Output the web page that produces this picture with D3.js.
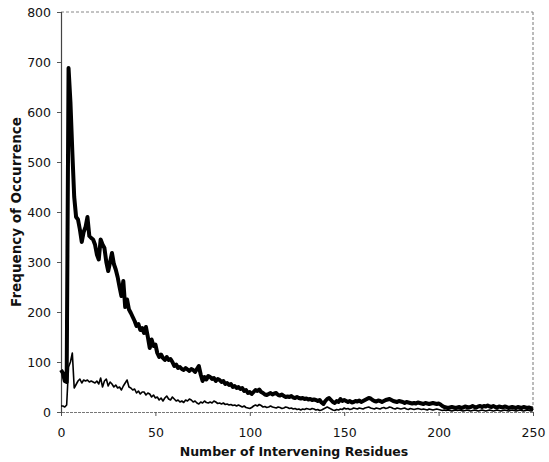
<!DOCTYPE html>
<html>
<head>
<meta charset="utf-8">
<script src="https://cdn.jsdelivr.net/npm/d3@7"></script>
<style>
  html, body { margin: 0; padding: 0; background: #fff; }
  svg { display: block; }
</style>
</head>
<body>
<svg id="chart" width="549" height="462"></svg>
<script>
// ---- data ----
const xTicks = [0, 50, 100, 150, 200, 250];
const yTicks = [0, 100, 200, 300, 400, 500, 600, 700, 800];
const xTitle = "Number of Intervening Residues";
const yTitle = "Frequency of Occurrence";

// thick series, x = 0..250
const thickSeries = [
  84, 78, 62, 60, 688, 620, 520, 430, 390, 385,
  365, 340, 360, 370, 390, 352, 348, 345, 335, 315,
  305, 345, 335, 328, 300, 282, 300, 318, 296, 285,
  270, 250, 232, 262, 210, 225, 205, 198, 190, 182,
  172, 176, 164, 168, 158, 170, 150, 128, 145, 132,
  135, 118, 110, 115, 108, 104, 110, 104, 106, 100,
  92, 95, 88, 90, 86, 84, 88, 85, 82, 86,
  84, 80, 86, 92, 75, 62, 70, 65, 72, 70,
  66, 68, 62, 66, 64, 60, 62, 56, 58, 54,
  56, 50, 52, 48, 50, 46, 48, 42, 44, 38,
  40, 36, 40, 44, 42, 45, 40, 38, 35, 34,
  36, 38, 35, 37, 38, 34, 33, 35, 32, 30,
  31, 30, 32, 29, 28, 30, 28, 27, 28, 26,
  27, 25, 26, 24, 25, 24, 22, 24, 19, 16,
  22, 26, 28, 24, 20, 18, 22, 20, 26, 22,
  24, 22, 20, 22, 19, 20, 22, 21, 23, 20,
  22, 24, 26, 28, 27, 24, 22, 21, 23, 22,
  20, 22, 24, 25, 26, 24, 22, 21, 20, 22,
  21, 20, 18, 20, 19, 18, 17, 18, 17, 19,
  18, 17, 16, 18, 17, 16, 17, 18, 17, 16,
  17, 15, 12, 10, 9, 8, 9, 10, 9, 8,
  9, 10, 8, 9, 11, 10, 9, 10, 12, 10,
  9, 11, 12, 10, 12, 11, 13, 11, 10, 12,
  10, 9, 11, 10, 9, 11, 10, 8, 9, 10,
  9, 8, 10, 9, 8, 10, 9, 8, 9, 7,
  8
];

// thin series, x = 0..250
const thinSeries = [
  12, 12, 10, 14, 90, 100, 118, 48, 55, 62,
  66, 58, 64, 62, 64, 60, 62, 60, 58, 62,
  56, 68, 50, 62, 66, 52, 60, 56, 50, 54,
  48, 50, 44, 52, 58, 64, 50, 48, 44, 46,
  38, 42, 36, 40, 40, 34, 38, 36, 30, 34,
  28, 30, 24, 28, 22, 28, 32, 26, 24, 30,
  26, 22, 24, 20, 22, 19, 24, 22, 26, 24,
  20, 22, 18, 16, 20, 18, 22, 19, 18, 20,
  18, 22, 20, 17, 18, 16, 18, 15, 16, 14,
  15, 13, 14, 12, 14, 12, 10, 12, 9, 8,
  7, 9, 12, 14, 12, 15, 13, 10, 11, 9,
  10, 12, 10, 9, 8, 10, 9, 7, 8, 10,
  9, 7, 8, 6, 7, 5, 6, 4, 6, 5,
  7, 6, 5, 7, 6, 4, 5, 3, 4, 6,
  8, 10, 8, 6, 4, 3, 5, 4, 6, 5,
  8, 6, 7, 5, 6, 8, 7, 6, 8, 7,
  6, 8, 9, 10, 8, 7, 6, 8, 7, 6,
  8, 9, 7, 8, 10, 9, 7, 6, 8, 7,
  6, 7, 8, 6, 5, 7, 6, 5, 6, 7,
  6, 5, 6, 5, 4, 6, 5, 4, 5, 6,
  5, 4, 3, 4, 3, 4, 3, 2, 3, 4,
  3, 4, 3, 2, 3, 4, 3, 2, 3, 4,
  3, 2, 3, 4, 3, 2, 3, 4, 3, 2,
  3, 4, 3, 2, 3, 4, 3, 2, 3, 4,
  3, 2, 3, 4, 3, 2, 3, 4, 3, 2,
  3
];

// ---- drawing ----
const svg = d3.select("#chart");
const margin = { left: 61, right: 16, top: 12, bottom: 50 };
const W = 549, H = 462;
const x = d3.scaleLinear().domain([0, 250]).range([margin.left, W - margin.right]);
const y = d3.scaleLinear().domain([0, 800]).range([H - margin.bottom, margin.top]);
const font = "'DejaVu Sans', Verdana, sans-serif";

// frame: top and right dotted
svg.append("line")
  .attr("x1", x(0)).attr("x2", x(250)).attr("y1", y(800)).attr("y2", y(800))
  .attr("stroke", "#888").attr("stroke-width", 1).attr("stroke-dasharray", "3,2");
svg.append("line")
  .attr("x1", x(250)).attr("x2", x(250)).attr("y1", y(800)).attr("y2", y(0))
  .attr("stroke", "#777").attr("stroke-width", 1).attr("stroke-dasharray", "3,2");

// x axis
const xAxis = svg.append("g")
  .attr("transform", `translate(0,${y(0)})`)
  .call(d3.axisBottom(x).tickValues(xTicks).tickSize(4).tickPadding(12));
xAxis.select(".domain").attr("stroke", "#777").attr("stroke-dasharray", "3,1");
xAxis.selectAll(".tick line").attr("stroke", "#555");
xAxis.selectAll("text").attr("font-family", font).attr("font-size", "12.5px").attr("fill", "#111");

// y axis
const yAxis = svg.append("g")
  .attr("transform", `translate(${x(0)},0)`)
  .call(d3.axisLeft(y).tickValues(yTicks).tickSize(4).tickPadding(6));
yAxis.select(".domain").attr("stroke", "#444").attr("stroke-width", 1.2);
yAxis.selectAll(".tick line").attr("stroke", "#555");
yAxis.selectAll("text").attr("font-family", font).attr("font-size", "12.5px").attr("fill", "#111");

const line = d3.line().x((d, i) => x(i)).y(d => y(d));

svg.append("path").datum(thinSeries)
  .attr("d", line).attr("fill", "none")
  .attr("stroke", "#000").attr("stroke-width", 1.6).attr("stroke-linejoin", "round");

svg.append("path").datum(thickSeries)
  .attr("d", line).attr("fill", "none")
  .attr("stroke", "#000").attr("stroke-width", 4).attr("stroke-linejoin", "round");

// titles
svg.append("text")
  .attr("x", (x(0) + x(250)) / 2 - 3).attr("y", 456)
  .attr("text-anchor", "middle")
  .attr("font-family", font).attr("font-weight", "bold").attr("font-size", "12.5px")
  .attr("fill", "#111")
  .text(xTitle);

svg.append("text")
  .attr("transform", `translate(21,${(y(0) + y(800)) / 2}) rotate(-90)`)
  .attr("text-anchor", "middle")
  .attr("font-family", font).attr("font-weight", "bold").attr("font-size", "13.5px")
  .attr("fill", "#111")
  .text(yTitle);
</script>
</body>
</html>
